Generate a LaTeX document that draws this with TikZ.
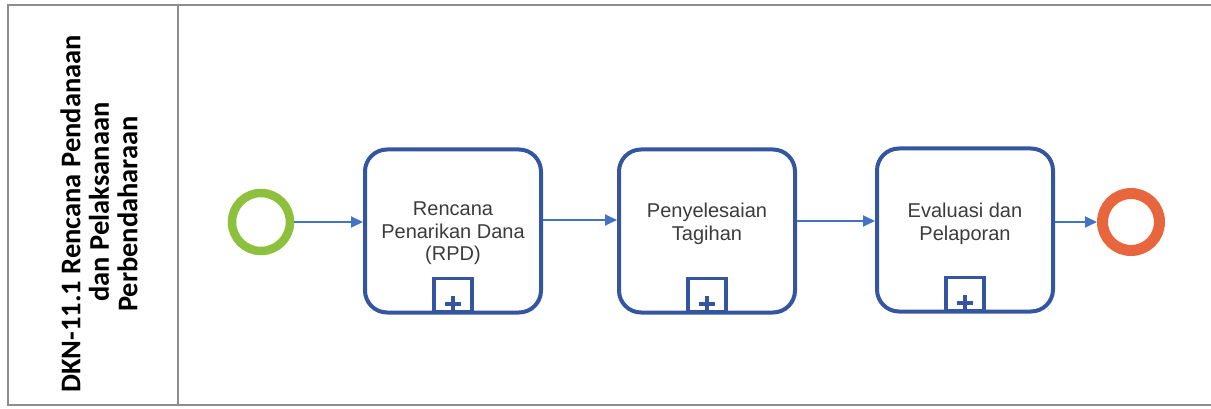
\documentclass[tikz,border=0pt]{standalone}
\usepackage{fontspec}
\setmainfont{Liberation Sans}
\newfontfamily\lanefont{Carlito}
\usetikzlibrary{arrows.meta,calc}
\definecolor{startgreen}{RGB}{141,192,60}
\definecolor{endorange}{RGB}{232,102,62}
\definecolor{boxblue}{RGB}{52,86,160}
\definecolor{flowblue}{RGB}{68,114,196}
\definecolor{txtgray}{RGB}{60,60,60}
\definecolor{framegray}{RGB}{140,140,145}
\tikzset{
  taskbox/.style={draw=boxblue, line width=4pt, rounded corners=22pt, minimum width=176pt, minimum height=163pt, fill=white},
  tasktext/.style={font=\fontsize{20}{22.5}\selectfont, text=txtgray, align=center, inner sep=0pt, anchor=north},
  plusbox/.style={draw=boxblue, line width=3.5pt, minimum width=38pt, minimum height=33pt, inner sep=0pt},
  startev/.style={circle, draw=startgreen, line width=8.5pt, minimum size=58pt, inner sep=0pt},
  endev/.style={circle, draw=endorange, line width=11pt, minimum size=57pt, inner sep=0pt},
  flow/.style={draw=flowblue, line width=1.8pt, -{Triangle[length=12pt,width=11pt]}},
  frameline/.style={draw=framegray, line width=1.5pt},
}
\begin{document}
\begin{tikzpicture}[x=1pt,y=-1pt]
\useasboundingbox (0,0) rectangle (1211,409);
% pool frame
\draw[frameline] (1211,5) -- (8,5) -- (8,405) -- (1211,405);
\draw[frameline] (178,5) -- (178,405);
\node[rotate=90, align=center, inner sep=0pt, font=\lanefont\bfseries\fontsize{28.5}{28.5}\selectfont, text=black] (lane) at (99,214)
  {DKN-11.1 Rencana Pendanaan\\\hspace*{24pt}dan Pelaksanaan\\Perbendaharaan};
% events
\node[startev] (s) at (261,222) {};
\node[endev] (e) at (1131,222) {};
% tasks
\node[taskbox] (b1) at (453,231) {};
\node[taskbox] (b2) at (707,231) {};
\node[taskbox] (b3) at (965,230) {};
\node[tasktext] (t1) at (453,202) {Rencana\\Penarikan Dana\\(RPD)};
\node[tasktext] (t2) at (707,203) {Penyelesaian\\Tagihan};
\node[tasktext] (t3) at (965,203) {Evaluasi dan\\Pelaporan};
% plus markers
\foreach \b in {b1,b2,b3}{
  \node[plusbox, anchor=south] (p\b) at ([yshift=1.5pt]\b.south) {};
  \draw[boxblue, line width=4pt] ([yshift=9pt,xshift=-8pt]p\b.south) -- ([yshift=9pt,xshift=8pt]p\b.south);
  \draw[boxblue, line width=4pt] ([yshift=1pt]p\b.south) -- ([yshift=17pt]p\b.south);
}
% flows
\draw[flow] (s.east) -- (s.east -| b1.west);
\draw[flow] ([yshift=11pt]b1.east) -- ([yshift=11pt]b1.east -| b2.west);
\draw[flow] ([yshift=10pt]b2.east) -- ([yshift=10pt]b2.east -| b3.west);
\draw[flow] (e.west -| b3.east) -- (e.west);
\end{tikzpicture}
\end{document}
